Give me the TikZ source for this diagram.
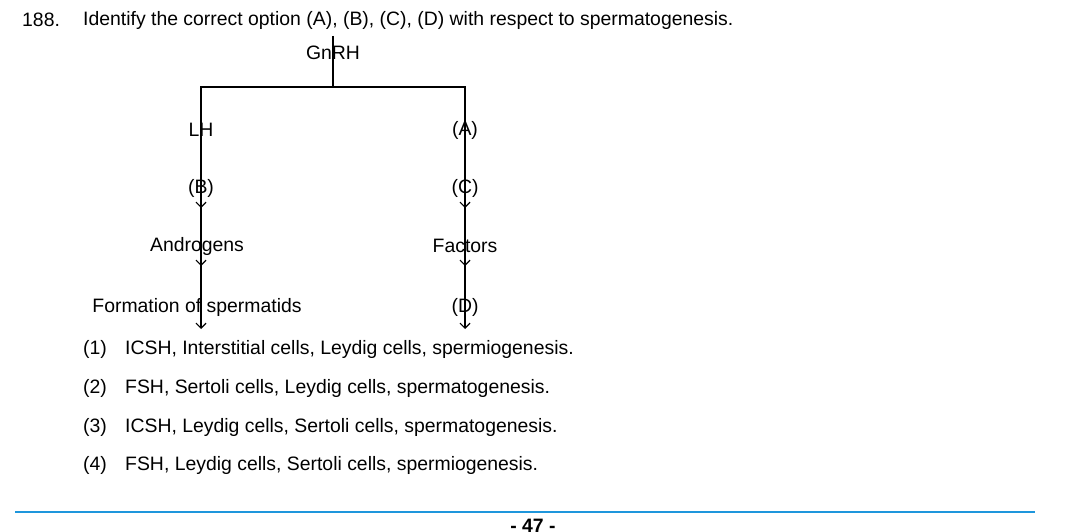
\documentclass[tikz,border=0pt]{standalone}
\usepackage{fontspec}
\setmainfont{Liberation Sans}
\usetikzlibrary{positioning,arrows.meta}
\tikzset{
  txt/.style={inner sep=0pt, font=\fontsize{19.4}{22}\selectfont},
  flow/.style={-{Straight Barb[length=5pt,width=10pt]}, line width=1.2pt},
  tree/.style={line width=1.2pt}
}
\begin{document}
\begin{tikzpicture}[x=1pt,y=-1pt]
\useasboundingbox (0,0) rectangle (1084,532);
% question
\node[txt, anchor=west] (num) at (22,20) {188.};
\node[txt, anchor=west] (q) at (83,20) {Identify the correct option (A), (B), (C), (D) with respect to spermatogenesis.};
% hormone tree
\node[txt] (gnrh) at (333,53) {GnRH};
\node[txt] (lh) at (201,130) {LH};
\node[txt] (b) at (201,188) {(B)};
\node[txt] (andro) at (197,246) {Androgens};
\node[txt] (form) at (197,307) {Formation of spermatids};
\node[txt] (a) at (465,130) {(A)};
\node[txt] (c) at (465,188) {(C)};
\node[txt] (fact) at (465,246) {Factors};
\node[txt] (d) at (465,307) {(D)};
\coordinate (top) at (333,87);
\draw[tree] ([yshift=17]gnrh.center) -- (top);
\draw[tree] ([yshift=-28]lh.center) |- (top) -| ([yshift=-28]a.center);
\draw[flow] ([yshift=20]lh.center) -- ([yshift=-20]b.center);
\draw[flow] ([yshift=20]b.center) -- ([yshift=-20,xshift=4]andro.center);
\draw[flow] ([yshift=20,xshift=4]andro.center) -- ([yshift=-22,xshift=4]form.center);
\draw[flow] ([yshift=20]a.center) -- ([yshift=-20]c.center);
\draw[flow] ([yshift=20]c.center) -- ([yshift=-20]fact.center);
\draw[flow] ([yshift=20]fact.center) -- ([yshift=-22]d.center);
% options
\foreach \n/\t/\y in {1/{ICSH, Interstitial cells, Leydig cells, spermiogenesis.}/349,
  2/{FSH, Sertoli cells, Leydig cells, spermatogenesis.}/388,
  3/{ICSH, Leydig cells, Sertoli cells, spermatogenesis.}/427,
  4/{FSH, Leydig cells, Sertoli cells, spermiogenesis.}/465}{
  \node[txt, anchor=west] (o\n) at (83,\y) {(\n)};
  \node[txt, anchor=west] (t\n) at (125,\y) {\t};
}
% footer
\draw[line width=1.2pt, color={rgb,255:red,30;green,150;blue,220}] (15,512) -- (1035,512);
\node[txt, font=\fontsize{19.4}{22}\bfseries\selectfont, anchor=north] (page) at (533,519) {- 47 -};
\end{tikzpicture}
\end{document}
